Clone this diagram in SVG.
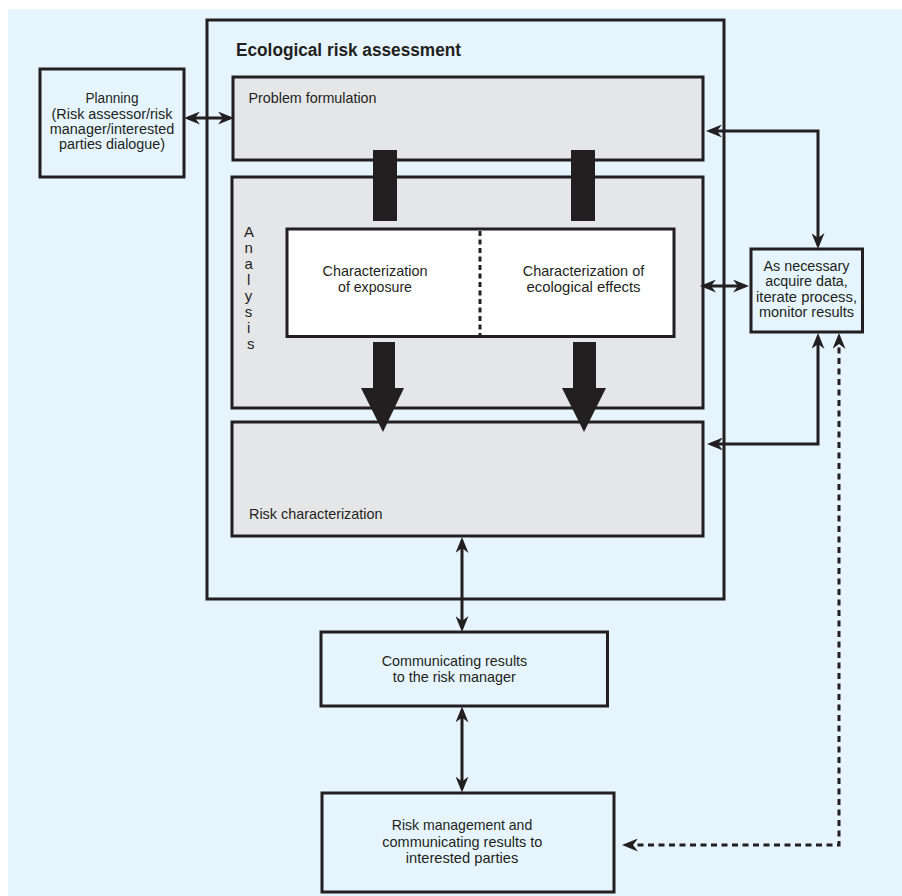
<svg xmlns="http://www.w3.org/2000/svg" width="902" height="896" viewBox="0 0 902 896">
<style>
.box{stroke:#231f20;stroke-width:3;}
.clear{fill:none;}
.grey{fill:#e5e6e8;}
.white{fill:#ffffff;}
.t{font-family:"Liberation Sans",Arial,sans-serif;font-size:15px;fill:#231f20;}
.s{font-size:14px;}
.c{text-anchor:middle;}
.title{font-family:"Liberation Sans",Arial,sans-serif;font-size:18px;font-weight:bold;fill:#231f20;}
.ln{fill:none;stroke:#231f20;stroke-width:3;marker-start:url(#ah);marker-end:url(#ah);}
.dash{stroke-dasharray:6 4.5;}
.flow{fill:#231f20;}
</style>
<defs>
<marker id="ah" viewBox="0 0 16 13" markerUnits="userSpaceOnUse" markerWidth="16" markerHeight="13" refX="12" refY="6.5" orient="auto-start-reverse">
<path d="M0,0 L16,6.5 L0,13 L5,6.5 Z" fill="#231f20" stroke="none"/>
</marker>
</defs>
<rect x="8" y="9" width="894" height="887" fill="#e6f5fd"/>

<g id="era">
<rect class="box clear" x="207" y="20" width="517" height="579"/>
<text class="title" x="236" y="56" textLength="225" lengthAdjust="spacingAndGlyphs">Ecological risk assessment</text>
</g>

<g id="planning">
<rect class="box clear" x="40" y="69" width="144" height="108"/>
<text class="t s c" x="112" y="103" textLength="53" lengthAdjust="spacingAndGlyphs">Planning</text>
<text class="t s c" x="112" y="118.5" textLength="121" lengthAdjust="spacingAndGlyphs">(Risk assessor/risk</text>
<text class="t s c" x="112" y="133.5" textLength="124.5" lengthAdjust="spacingAndGlyphs">manager/interested</text>
<text class="t s c" x="112" y="149" textLength="106" lengthAdjust="spacingAndGlyphs">parties dialogue)</text>
</g>

<g id="problem">
<rect class="box grey" x="233" y="77" width="470" height="83"/>
<text class="t" x="248.5" y="103" textLength="128" lengthAdjust="spacingAndGlyphs">Problem formulation</text>
</g>

<g id="analysis">
<rect class="box grey" x="232" y="177" width="471" height="231"/>
<text class="t c" font-size="13.5">
<tspan x="250.7" y="237">A</tspan>
<tspan x="250.7" y="253">n</tspan>
<tspan x="250.7" y="269">a</tspan>
<tspan x="250.7" y="285">l</tspan>
<tspan x="250.7" y="301">y</tspan>
<tspan x="250.7" y="317">s</tspan>
<tspan x="250.7" y="333">i</tspan>
<tspan x="250.7" y="349">s</tspan>
</text>
</g>

<g id="characterization">
<rect class="box white" x="287" y="229" width="387" height="107.5"/>
<line x1="480" y1="231" x2="480" y2="335" stroke="#231f20" stroke-width="3" stroke-dasharray="5 3.5"/>
<text class="t c" x="375" y="276" textLength="105" lengthAdjust="spacingAndGlyphs">Characterization</text>
<text class="t c" x="375" y="291.7" textLength="74" lengthAdjust="spacingAndGlyphs">of exposure</text>
<text class="t c" x="583.5" y="276" textLength="121.5" lengthAdjust="spacingAndGlyphs">Characterization of</text>
<text class="t c" x="583.5" y="291.7" textLength="114" lengthAdjust="spacingAndGlyphs">ecological effects</text>
</g>

<g id="riskchar">
<rect class="box grey" x="232" y="422" width="471" height="114"/>
<text class="t" x="249" y="519" textLength="133.5" lengthAdjust="spacingAndGlyphs">Risk characterization</text>
</g>

<g id="asnecessary">
<rect class="box clear" x="751" y="249" width="111.5" height="83"/>
<text class="t s c" x="806.5" y="270.5" textLength="86" lengthAdjust="spacingAndGlyphs">As necessary</text>
<text class="t s c" x="806.5" y="286" textLength="82.5" lengthAdjust="spacingAndGlyphs">acquire data,</text>
<text class="t s c" x="806.5" y="301.7" textLength="101" lengthAdjust="spacingAndGlyphs">iterate process,</text>
<text class="t s c" x="806.5" y="317.3" textLength="95" lengthAdjust="spacingAndGlyphs">monitor results</text>
</g>

<g id="communicating">
<rect class="box clear" x="321" y="632" width="286.5" height="74"/>
<text class="t c" x="454.5" y="666" textLength="145.5" lengthAdjust="spacingAndGlyphs">Communicating results</text>
<text class="t c" x="454.2" y="681.7" textLength="123" lengthAdjust="spacingAndGlyphs">to the risk manager</text>
</g>

<g id="riskmgmt">
<rect class="box clear" x="322" y="793" width="292" height="99"/>
<text class="t c" x="462" y="830" textLength="140.5" lengthAdjust="spacingAndGlyphs">Risk management and</text>
<text class="t c" x="462.3" y="846.7" textLength="160" lengthAdjust="spacingAndGlyphs">communicating results to</text>
<text class="t c" x="462" y="862.7" textLength="112.5" lengthAdjust="spacingAndGlyphs">interested parties</text>
</g>

<g id="connectors">
<rect class="flow" x="373" y="150" width="24" height="71"/>
<rect class="flow" x="571" y="150" width="24" height="71"/>
<polygon class="flow" points="373,342 395,342 395,388 404,388 383,432 361,388 373,388"/>
<polygon class="flow" points="573,342 596,342 596,388 606,388 584,432 562,388 573,388"/>
<line class="ln" x1="188" y1="118" x2="230" y2="118"/>
<path class="ln" d="M710,131 H818 V245"/>
<line class="ln" x1="704" y1="286" x2="745" y2="286"/>
<path class="ln" d="M818,337 V444 H711"/>
<path class="ln dash" d="M839,337 V845 H626"/>
<line class="ln" x1="462" y1="541" x2="462" y2="628"/>
<line class="ln" x1="462" y1="710.5" x2="462" y2="788.5"/>
</g>
</svg>
